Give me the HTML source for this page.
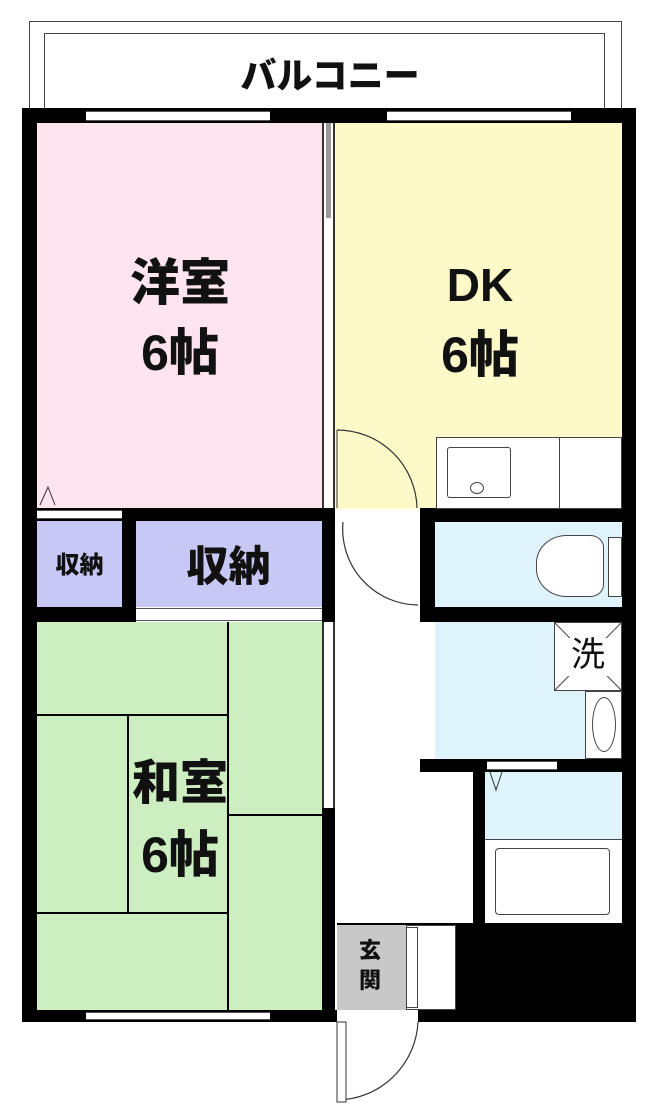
<!DOCTYPE html>
<html><head><meta charset="utf-8"><style>
body{margin:0;width:656px;height:1118px;background:#fff;position:relative;overflow:hidden;font-family:"Liberation Sans","Noto Sans CJK JP",sans-serif}
div{position:absolute;box-sizing:border-box}
.b{background:#000}
.t{font-weight:900;color:#111;text-align:center;line-height:1;white-space:nowrap}
.win{background:#fff;border-top:1px solid #555;border-bottom:1px solid #555}
</style></head><body>
<!-- balcony -->
<div style="left:29px;top:21px;width:593px;height:90px;border:1px solid #444;border-bottom:none"></div>
<div style="left:44px;top:33px;width:561px;height:78px;border:1px solid #444;border-bottom:none"></div>
<div class="t" style="left:180px;top:58px;width:300px;font-size:36px">バルコニー</div>

<!-- rooms -->
<div style="left:37px;top:123px;width:285px;height:386px;background:#fde4ee"></div>
<div style="left:335px;top:123px;width:287px;height:386px;background:#fdf9c9"></div>
<div style="left:37px;top:521px;width:85px;height:86px;background:#c8c8f5"></div>
<div style="left:135px;top:521px;width:187px;height:86px;background:#c8c8f5"></div>
<div style="left:37px;top:622px;width:285px;height:388px;background:#cdeec0"></div>
<div style="left:435px;top:522px;width:187px;height:85px;background:#def3fb"></div>
<div style="left:435px;top:622px;width:187px;height:137px;background:#def3fb"></div>
<div style="left:485px;top:772px;width:137px;height:67px;background:#def3fb"></div>
<div style="left:337px;top:925px;width:69px;height:85px;background:#c8c8c8"></div>

<!-- tatami lines -->
<div class="b" style="left:227px;top:622px;width:2px;height:388px"></div>
<div class="b" style="left:37px;top:714px;width:191px;height:2px"></div>
<div class="b" style="left:127px;top:715px;width:2px;height:198px"></div>
<div class="b" style="left:37px;top:912px;width:191px;height:2px"></div>
<div class="b" style="left:228px;top:814px;width:94px;height:2px"></div>

<!-- outer walls -->
<div class="b" style="left:22px;top:108px;width:614px;height:15px"></div>
<div class="win" style="left:86px;top:111px;width:184px;height:10px"></div>
<div class="win" style="left:387px;top:111px;width:184px;height:10px"></div>
<div class="b" style="left:22px;top:108px;width:15px;height:914px"></div>
<div class="b" style="left:622px;top:108px;width:14px;height:914px"></div>
<div class="b" style="left:22px;top:1010px;width:315px;height:12px"></div>
<div class="b" style="left:418px;top:1010px;width:218px;height:12px"></div>
<div class="win" style="left:86px;top:1012px;width:184px;height:8px"></div>

<!-- interior walls -->
<div style="left:322px;top:123px;width:13px;height:399px;background:#fff;border-left:2px solid #333;border-right:2px solid #333"></div>
<div style="left:326px;top:123px;width:5px;height:95px;background:#999"></div>
<div class="b" style="left:22px;top:508px;width:313px;height:13px"></div>
<div class="win" style="left:37px;top:510px;width:85px;height:9px"></div>
<div class="b" style="left:122px;top:508px;width:14px;height:114px"></div>
<div class="b" style="left:22px;top:607px;width:114px;height:15px"></div>
<div class="win" style="left:136px;top:608px;width:186px;height:13px"></div>
<div class="b" style="left:322px;top:508px;width:13px;height:114px"></div>
<div style="left:322px;top:622px;width:13px;height:186px;background:#fff;border-left:2px solid #333;border-right:2px solid #333"></div>
<div class="b" style="left:322px;top:808px;width:13px;height:214px"></div>
<div class="b" style="left:420px;top:508px;width:216px;height:14px"></div>
<div class="b" style="left:420px;top:508px;width:15px;height:114px"></div>
<div class="b" style="left:420px;top:607px;width:216px;height:15px"></div>
<div class="b" style="left:420px;top:759px;width:216px;height:13px"></div>
<div class="win" style="left:487px;top:761px;width:70px;height:9px"></div>
<div class="b" style="left:473px;top:759px;width:12px;height:166px"></div>
<div class="b" style="left:337px;top:923px;width:148px;height:2px"></div>
<div class="b" style="left:456px;top:923px;width:180px;height:99px"></div>

<!-- kitchen counter -->
<div style="left:436px;top:437px;width:186px;height:72px;background:#fff;border:1px solid #444"></div>
<div style="left:447px;top:447px;width:64px;height:51px;border:1px solid #444;border-radius:3px;background:#fff"></div>
<div style="left:470px;top:482px;width:14px;height:12px;border:1px solid #444;border-radius:50%"></div>
<div style="left:559px;top:437px;width:1px;height:72px;background:#444"></div>

<!-- toilet -->
<div style="left:608px;top:537px;width:14px;height:60px;background:#fff;border:1px solid #444"></div>
<div style="left:536px;top:535px;width:68px;height:62px;background:#fff;border:1px solid #444;border-radius:45% 20% 20% 45%"></div>

<!-- washer / basin -->
<div style="left:554px;top:622px;width:68px;height:69px;background:#fff;border:1px solid #444"></div>
<svg style="position:absolute;left:554px;top:622px" width="68" height="69"><line x1="0" y1="0" x2="68" y2="69" stroke="#444"/><line x1="68" y1="0" x2="0" y2="69" stroke="#444"/></svg>
<div class="t" style="left:560px;top:638px;width:56px;height:38px;font-size:34px;font-weight:400;background:#fff">洗</div>
<div style="left:585px;top:691px;width:37px;height:68px;background:#fff;border:1px solid #444"></div>
<div style="left:592px;top:697px;width:24px;height:55px;border:1px solid #444;border-radius:50%"></div>

<!-- bathtub -->
<div style="left:485px;top:839px;width:137px;height:84px;background:#fff;border-top:1px solid #444"></div>
<div style="left:495px;top:848px;width:115px;height:67px;border:1px solid #444;border-radius:4px"></div>

<!-- shoe box -->
<div style="left:406px;top:925px;width:50px;height:85px;background:#fff;border:1px solid #444"></div>
<div style="left:406px;top:927px;width:12px;height:81px;border:1px solid #444;background:#fff"></div>

<!-- doors -->
<svg style="position:absolute;left:0;top:0" width="656" height="1118">
<path d="M337 430 A80 80 0 0 1 417 508" fill="none" stroke="#333" stroke-width="1.2"/>
<line x1="337" y1="430" x2="337" y2="508" stroke="#333"/>
<path d="M343 522 A76 76 0 0 0 418 605" fill="none" stroke="#333" stroke-width="1.2"/>
<path d="M337 1100 A82 82 0 0 0 418 1022" fill="none" stroke="#333" stroke-width="1.2"/>
<rect x="337" y="1022" width="9" height="80" fill="#fff" stroke="#333"/>
<path d="M40 505 L48 487 L55 505" fill="none" stroke="#333"/>
<path d="M490 772 L496 790 L502 772" fill="none" stroke="#333"/>
</svg>

<!-- labels -->
<div class="t" style="left:80px;top:258px;width:200px;font-size:50px">洋室</div>
<div class="t" style="left:80px;top:328px;width:200px;font-size:50px">6帖</div>
<div class="t" style="left:380px;top:262px;width:200px;font-size:46px">DK</div>
<div class="t" style="left:380px;top:330px;width:200px;font-size:50px">6帖</div>
<div class="t" style="left:37px;top:554px;width:85px;font-size:24px">収納</div>
<div class="t" style="left:135px;top:546px;width:187px;font-size:42px">収納</div>
<div class="t" style="left:80px;top:760px;width:200px;font-size:48px">和室</div>
<div class="t" style="left:80px;top:830px;width:200px;font-size:50px">6帖</div>
<div class="t" style="left:355px;top:940px;width:30px;font-size:22px">玄</div>
<div class="t" style="left:355px;top:970px;width:30px;font-size:22px">関</div>
</body></html>
